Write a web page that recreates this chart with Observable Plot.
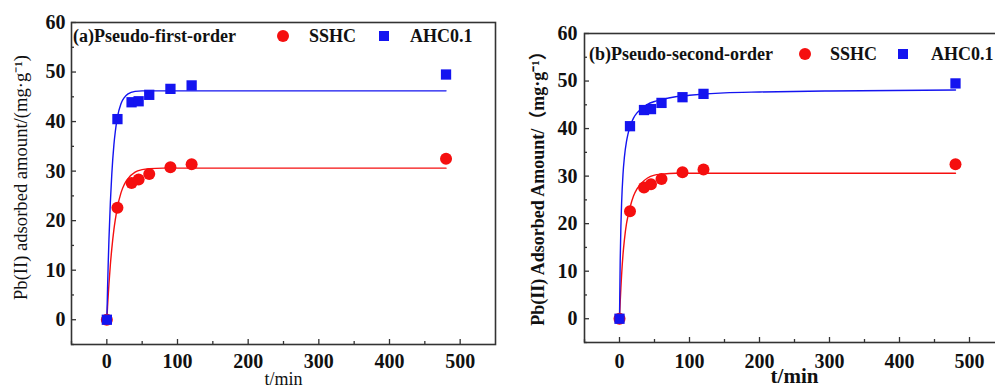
<!DOCTYPE html>
<html>
<head>
<meta charset="utf-8">
<script src="https://cdn.jsdelivr.net/npm/d3@7"></script>
<script src="https://cdn.jsdelivr.net/npm/@observablehq/plot@0.6"></script>
<style>
  html, body { margin: 0; padding: 0; background: #fff; }
  #wrap { position: relative; width: 995px; height: 387px; overflow: hidden; background: #fff; font-family: "Liberation Serif", "Noto Sans CJK SC", serif; }
  #wrap svg, #wrap svg text { font-family: "Liberation Serif", "Noto Sans CJK SC", serif !important; }
  .panel { position: absolute; top: 0; }
  .ttl { position: absolute; font-weight: bold; font-size: 18px; white-space: nowrap; color: #111; line-height: 1; }
  .sym { position: absolute; }
</style>
</head>
<body>
<div id="wrap"></div>
<script>
// ---- measured data (both panels share the same experiment) ----
const times  = [0, 15, 35, 45, 60, 90, 120, 480];
const sshc   = [0, 22.6, 27.6, 28.3, 29.4, 30.8, 31.4, 32.5];
const ahc    = [0, 40.5, 43.9, 44.1, 45.4, 46.6, 47.3, 49.5];

// ---- fitted curves ----
const fitT      = [0, 1, 2, 3, 5, 7, 10, 12, 15, 20, 25, 30, 40, 50, 60, 80, 100, 150, 200, 300, 480];
const pfoSSHC   = [0, 2.6, 5.0, 7.2, 11.1, 14.3, 18.2, 20.2, 22.7, 25.6, 27.4, 28.5, 29.8, 30.3, 30.5, 30.6, 30.6, 30.6, 30.6, 30.6, 30.6];
const pfoAHC    = [0, 6.2, 11.6, 16.2, 23.7, 29.3, 35.3, 38.0, 40.9, 43.6, 44.9, 45.6, 46.1, 46.2, 46.2, 46.2, 46.2, 46.2, 46.2, 46.2, 46.2];
const psoSSHC   = [0, 3.5, 6.5, 9.2, 13.5, 16.6, 20.0, 21.5, 23.4, 25.8, 27.3, 28.3, 29.6, 30.2, 30.4, 30.6, 30.6, 30.6, 30.6, 30.6, 30.6];
const psoAHC    = [0, 12.2, 19.5, 24.3, 30.4, 34.0, 37.3, 38.8, 40.4, 42.2, 43.3, 44.0, 45.1, 45.7, 46.1, 46.7, 47.0, 47.5, 47.7, 47.9, 48.1];

const xMajor = [0, 100, 200, 300, 400, 500];
const xMinor = [-50, 50, 150, 250, 350, 450];
const yMajor = [0, 10, 20, 30, 40, 50, 60];
const yMinor = [-5, 5, 15, 25, 35, 45, 55];

const RED = "#f50f0f", BLUE = "#1414f0", FRAME = "#333";

const pts = (ys) => times.map((t, i) => ({t, q: ys[i]}));
const crv = (ys) => fitT.map((t, i) => ({t, q: ys[i]}));

function panel(o) {
  const pw = o.width - o.ml - o.mr, ph = o.height - o.mt - o.mb;
  return Plot.plot({
    width: o.width, height: o.height,
    marginLeft: o.ml, marginRight: o.mr, marginTop: o.mt, marginBottom: o.mb,
    style: {fontFamily: '"Liberation Serif", serif', background: "transparent", overflow: "visible"},
    x: {domain: [-50, 550]},
    y: {domain: [-5, 60]},
    marks: [
      Plot.line(crv(o.redCurve), {x: "t", y: "q", stroke: RED, strokeWidth: 1.4, curve: "monotone-x"}),
      Plot.line(crv(o.blueCurve), {x: "t", y: "q", stroke: BLUE, strokeWidth: 1.4, curve: "monotone-x"}),
      Plot.dot(pts(sshc), {x: "t", y: "q", r: 6, fill: RED, symbol: "circle"}),
      Plot.dot(pts(ahc), {x: "t", y: "q", r: 5.8, fill: BLUE, symbol: "square"}),
      Plot.tickX(xMajor, {x: d => d, stroke: FRAME, strokeWidth: 1.3, insetTop: ph - 5}),
      Plot.tickX(xMinor, {x: d => d, stroke: FRAME, strokeWidth: 1.3, insetTop: ph - 3}),
      Plot.tickY(yMajor, {y: d => d, stroke: FRAME, strokeWidth: 1.3, insetRight: pw - 5}),
      Plot.tickY(yMinor, {y: d => d, stroke: FRAME, strokeWidth: 1.3, insetRight: pw - 3}),
      Plot.axisX(xMajor, {tickSize: 0, tickPadding: o.xpad, fontSize: 20, fontWeight: "bold", fill: "#111",
        label: o.xlabel, labelAnchor: "center", labelArrow: "none", labelOffset: o.xlo}),
      Plot.axisY(yMajor, {tickSize: 0, tickPadding: o.ypad, fontSize: 20, fontWeight: "bold", fill: "#111",
        label: o.ylabel, labelAnchor: "center", labelArrow: "none", labelOffset: o.ylo}),
      Plot.frame({stroke: FRAME, strokeWidth: 1.6})
    ]
  });
}

const wrap = document.getElementById("wrap");

const left = panel({width: 500, height: 387, ml: 71, mr: 5, mt: 22, mb: 43,
  redCurve: pfoSSHC, blueCurve: pfoAHC, xpad: 9, ypad: 6,
  xlabel: "t/min", xlo: 40, ylabel: "Pb(II) adsorbed amount/(mg·g⁻¹)", ylo: 58});
left.classList.add("panel"); left.style.left = "0px";
wrap.appendChild(left);

const right = panel({width: 530, height: 387, ml: 84, mr: 26, mt: 33, mb: 45,
  redCurve: psoSSHC, blueCurve: psoAHC, xpad: 11, ypad: 7,
  xlabel: "t/min", xlo: 40, ylabel: "Pb(II) Adsorbed Amount/（mg·g⁻¹）", ylo: 53});
right.classList.add("panel"); right.style.left = "500px";
wrap.appendChild(right);

// axis label styling (regular on the left, bold on the right)
function styleLabels(svg, bold, yfs, xfs, ydx) {
  svg.querySelectorAll("g[aria-label='x-axis label'] text, g[aria-label='y-axis label'] text").forEach(t => {
    t.setAttribute("font-weight", bold ? "bold" : "normal");
    t.style.fontWeight = bold ? "bold" : "normal";
  });
  svg.querySelectorAll("g[aria-label='y-axis label']").forEach(g => { g.setAttribute("font-size", yfs); g.style.fontSize = yfs + "px"; });
  svg.querySelectorAll("g[aria-label='y-axis label'] text").forEach(t => t.setAttribute("dx", ydx));
  svg.querySelectorAll("g[aria-label='x-axis label']").forEach(g => { g.setAttribute("font-size", xfs); g.style.fontSize = xfs + "px"; });
}
styleLabels(left, false, 18.6, 18, 6);
styleLabels(right, true, 18, 21, 4);

// in-plot titles & legends
const legends = [
  {title: "(a)Pseudo-first-order", tx: 73, ty: 27, dot: [283, 36], s1: [309, 27], sq: [384, 36], s2: [410, 27]},
  {title: "(b)Pseudo-second-order", tx: 589, ty: 45, dot: [805, 54], s1: [830, 45], sq: [903, 54], s2: [931, 45]}
];
const names = ["SSHC", "AHC0.1"];
legends.forEach(L => {
  const t = document.createElement("div"); t.className = "ttl"; t.textContent = L.title;
  t.style.left = L.tx + "px"; t.style.top = L.ty + "px"; wrap.appendChild(t);
  const d = document.createElement("div"); d.className = "sym";
  Object.assign(d.style, {left: (L.dot[0] - 6) + "px", top: (L.dot[1] - 6) + "px", width: "12px", height: "12px", borderRadius: "50%", background: RED});
  wrap.appendChild(d);
  const s = document.createElement("div"); s.className = "sym";
  Object.assign(s.style, {left: (L.sq[0] - 5) + "px", top: (L.sq[1] - 5) + "px", width: "10px", height: "10px", background: BLUE});
  wrap.appendChild(s);
  [[names[0], L.s1], [names[1], L.s2]].forEach(([n, p]) => {
    const e = document.createElement("div"); e.className = "ttl"; e.textContent = n;
    e.style.left = p[0] + "px"; e.style.top = p[1] + "px"; wrap.appendChild(e);
  });
});
</script>
</body>
</html>
